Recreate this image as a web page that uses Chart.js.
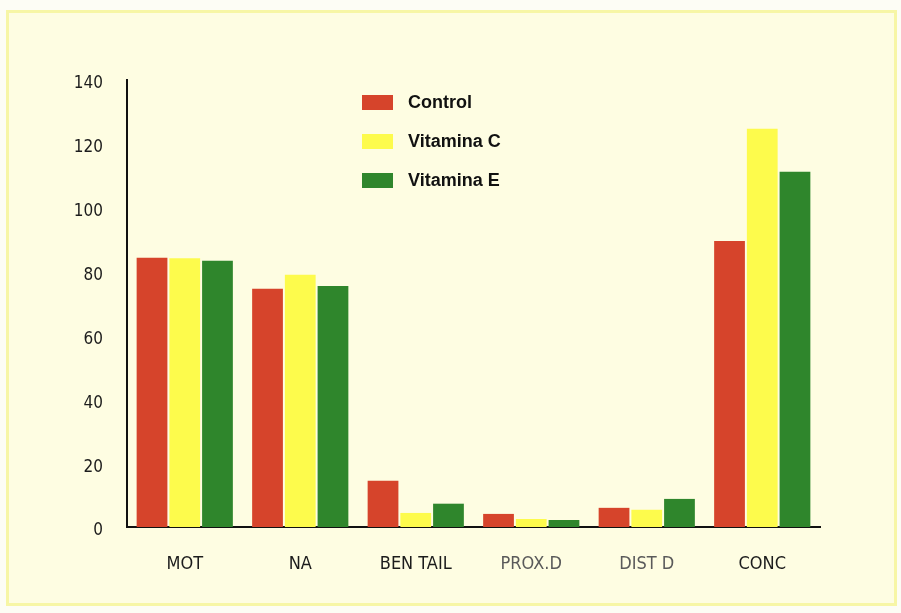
<!DOCTYPE html>
<html>
<head>
<meta charset="utf-8">
<script src="https://cdn.jsdelivr.net/npm/chart.js@4.4.1/dist/chart.umd.min.js"></script>
<style>
  body { margin: 0; background: #fdfdf5; }
  #frame {
    position: absolute; left: 6px; top: 10px; width: 885px; height: 590px;
    background: #fefde2; border: 3px solid #f7f6a6;
  }
  #wrap { position: absolute; left: 0; top: 0; width: 901px; height: 613px; }
  #legend { position: absolute; left: 362px; top: 92px; font-family: "Liberation Sans", Arial, sans-serif; }
  .item { height: 39px; display: flex; align-items: flex-start; }
  .box { width: 31px; height: 15px; margin-top: 3px; margin-right: 15px; }
  .lbl { font-weight: bold; font-size: 18px; color: #111; }
</style>
</head>
<body>
<div id="frame"></div>
<div id="wrap"><canvas id="chart" width="901" height="613"></canvas></div>
<div id="legend"></div>
<script>
// values
const categories = ['MOT', 'NA', 'BEN TAIL', 'PROX.D', 'DIST D', 'CONC'];
const control   = [84.3, 74.6, 14.5, 4.1, 6.0, 89.6];
const vitaminaC = [84.2, 79.0, 4.4, 2.5, 5.4, 124.7];
const vitaminaE = [83.4, 75.5, 7.3, 2.2, 8.8, 111.3];
const yTicks = [0, 20, 40, 60, 80, 100, 120, 140];

const fontNarrow = '"Liberation Sans Narrow", "DejaVu Sans Condensed", sans-serif';

const ctx = document.getElementById('chart').getContext('2d');
const chart = new Chart(ctx, {
  type: 'bar',
  data: {
    labels: categories,
    datasets: [
      { label: 'Control', data: control, backgroundColor: '#d6442b' },
      { label: 'Vitamina C', data: vitaminaC, backgroundColor: '#fdfb4c' },
      { label: 'Vitamina E', data: vitaminaE, backgroundColor: '#2f862c' }
    ]
  },
  options: {
    responsive: false,
    animation: false,
    layout: { padding: { left: 60, right: 81, top: 80, bottom: 0 } },
    datasets: { bar: { categoryPercentage: 0.85, barPercentage: 0.94 } },
    plugins: {
      legend: { display: false },
      tooltip: { enabled: false }
    },
    scales: {
      x: {
        grid: { display: false, drawTicks: false },
        border: { display: true, color: '#111', width: 2 },
        ticks: {
          padding: 27,
          font: { family: fontNarrow, size: 18 },
          color: (c) => (c.index === 3 || c.index === 4) ? '#5a5a5a' : '#1c1c1c'
        },
        afterFit: (s) => { s.height = 86; }
      },
      y: {
        min: 0, max: 140,
        afterBuildTicks: (s) => { s.ticks = yTicks.map(v => ({ value: v })); },
        grid: { display: false, drawTicks: false },
        border: { display: true, color: '#111', width: 2 },
        ticks: {
          padding: 24,
          labelOffset: 4,
          font: { family: fontNarrow, size: 17 },
          color: '#1c1c1c'
        },
        afterFit: (s) => { s.width = 67; }
      }
    }
  }
});

// html legend built from the datasets
const legend = document.getElementById('legend');
chart.data.datasets.forEach(ds => {
  const row = document.createElement('div');
  row.className = 'item';
  row.innerHTML = '<span class="box" style="background:' + ds.backgroundColor + '"></span><span class="lbl">' + ds.label + '</span>';
  legend.appendChild(row);
});
</script>
</body>
</html>
